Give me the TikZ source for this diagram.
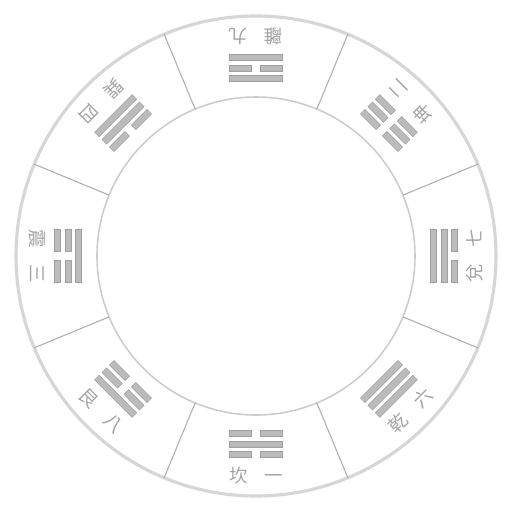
\documentclass[tikz,border=0pt]{standalone}
\usepackage{fontspec}
\newfontfamily\cjk{Noto Sans CJK TC}
\definecolor{bRim}{HTML}{D6D6D6}
\definecolor{bHub}{HTML}{CCCCCC}
\definecolor{bSpoke}{HTML}{ADADAD}
\definecolor{bBar}{HTML}{BBBBBB}
\definecolor{bText}{HTML}{A4A4A4}
\tikzset{
  rim/.style   = {draw=bRim, line width=1.8pt},
  hub/.style   = {draw=bHub, line width=0.9pt},
  spoke/.style = {draw=bSpoke, line width=0.6pt},
  bar/.style   = {fill=bBar, draw=bBar!85!black, line width=0.3pt},
  lbl/.style   = {font=\cjk\fontsize{10.5}{11}\selectfont, text=bText, inner sep=0pt},
}

\begin{document}
\begin{tikzpicture}[x=0.02cm, y=0.02cm]
  \useasboundingbox (-256,-256) rectangle (256,256);
  \draw[rim] (0,0) circle (240);
  \draw[hub] (0,0) circle (159);
  \foreach \a in {22.5,67.5,...,337.5}
    \draw[spoke] (\a:159) -- (\a:240);
  % sector: angle / trigram name / number / lines from inner to outer
  \foreach \ang/\gua/\num/\ya/\yb/\yc [count=\k] in
      {90/離/九/1/0/1, 45/坤/二/0/0/0, 0/兌/七/1/1/0, -45/乾/六/1/1/1,
       -90/坎/一/0/1/0, -135/艮/八/0/0/1, 180/震/三/1/0/0, 135/巽/四/0/1/1}{
    \node[lbl, rotate=\ang+90] (gua\k) at (\ang:219) {\gua\hspace{0.9em}\num};
    \begin{scope}[shift={(\ang:188)}, rotate=\ang-90]
      \foreach \yao [count=\i] in {\ya,\yb,\yc}{
        \ifnum\yao=1
          \filldraw[bar] (-26.5,{(\i-2)*10.5-3.2}) rectangle (26.5,{(\i-2)*10.5+3.2});
        \else
          \filldraw[bar] (-26.5,{(\i-2)*10.5-3.2}) rectangle (-4.5,{(\i-2)*10.5+3.2});
          \filldraw[bar] (4.5,{(\i-2)*10.5-3.2}) rectangle (26.5,{(\i-2)*10.5+3.2});
        \fi
      }
    \end{scope}
  }
\end{tikzpicture}
\end{document}
